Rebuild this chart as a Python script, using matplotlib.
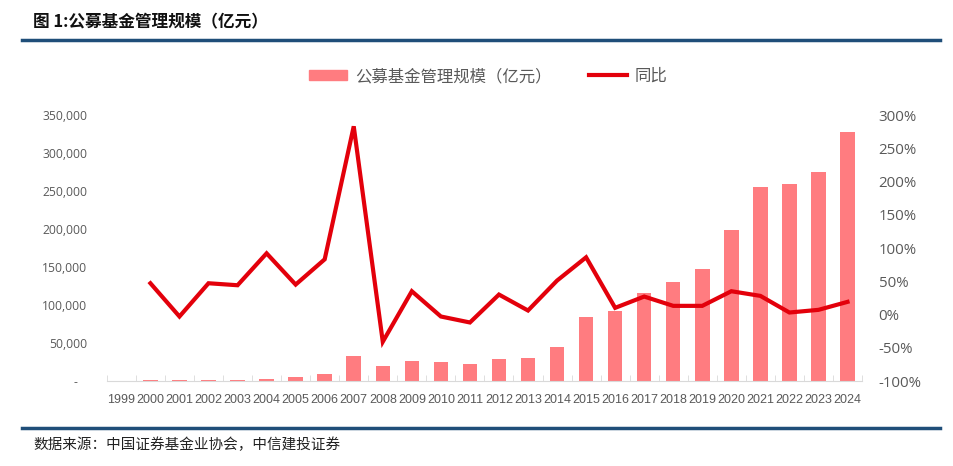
import matplotlib.pyplot as plt
import matplotlib.ticker as mticker
from matplotlib.lines import Line2D
from matplotlib.patches import Patch
import numpy as np

plt.rcParams['font.family'] = ['Noto Sans CJK SC', 'DejaVu Sans']

# data (亿元 / 同比)
years = [str(y) for y in range(1999, 2025)]
scale = [575, 846, 818, 1330, 1715, 3246, 4691, 8565, 32756, 19389,
         26767, 25199, 21918, 28662, 30021, 45354, 83972, 91593, 115997, 130347,
         147672, 198914, 255278, 259766, 275000, 328000]
yoy = [np.nan, 0.47, -0.03, 0.47, 0.44, 0.92, 0.45, 0.83, 2.83, -0.41,
       0.35, -0.03, -0.12, 0.30, 0.06, 0.51, 0.86, 0.10, 0.27, 0.13,
       0.13, 0.35, 0.28, 0.03, 0.07, 0.19]

C_BAR = '#FF7C80'
C_LINE = '#E3000B'
C_TEXT = '#595959'
C_NAVY = '#1F4E79'

fig = plt.figure(figsize=(9.54, 4.66), dpi=100, facecolor='white')
ax = fig.add_axes([0.112, 0.1824, 0.7916, 0.5708])
ax2 = ax.twinx()

x = np.arange(len(years))
ax.bar(x, scale, width=0.5, color=C_BAR, zorder=2)
ax2.plot(x, yoy, color=C_LINE, linewidth=3.0, solid_joinstyle='miter', zorder=3)

ax.set_xlim(-0.5, len(years) - 0.5)
ax.set_ylim(0, 350000)
ax2.set_ylim(-1, 3)
ax.set_yticks(np.arange(0, 350001, 50000))
ax2.set_yticks(np.arange(-1, 3.01, 0.5))

ax.yaxis.set_major_formatter(mticker.FuncFormatter(
    lambda v, p: '-   ' if v == 0 else f'{int(v):,}'))
ax2.yaxis.set_major_formatter(mticker.FuncFormatter(lambda v, p: f'{v*100:.0f}%'))

ax.set_xticks(x)
ax.set_xticklabels(years, family=['Liberation Sans Narrow', 'Liberation Sans', 'DejaVu Sans'],
                   fontsize=9, color=C_TEXT)
ax.set_xticks(np.arange(-0.5, len(years), 1), minor=True)
ax.tick_params(axis='x', which='major', length=0, pad=9)
ax.tick_params(axis='x', which='minor', direction='in', length=4, color='#D9D9D9')
ax.tick_params(axis='y', length=0, pad=14, labelsize=8.7, labelcolor=C_TEXT)
ax2.tick_params(axis='y', length=0, pad=12, labelsize=10.8, labelcolor=C_TEXT)
for lab in ax.get_yticklabels():
    lab.set_family(['Open Sans', 'DejaVu Sans'])
for lab in ax2.get_yticklabels():
    lab.set_family(['Open Sans', 'DejaVu Sans'])

for a in (ax, ax2):
    for s in ('top', 'right', 'left'):
        a.spines[s].set_visible(False)
ax2.spines['bottom'].set_visible(False)
ax.spines['bottom'].set_color('#D9D9D9')

handles = [Patch(color=C_BAR), Line2D([0], [0], color=C_LINE, linewidth=3)]
leg = fig.legend(handles, ['公募基金管理规模（亿元）', '同比'], loc='center',
                 bbox_to_anchor=(0.512, 0.836), ncol=2, frameon=False,
                 fontsize=11.8, handlelength=2.3, handleheight=0.6,
                 columnspacing=2.3, handletextpad=0.5)
for t in leg.get_texts():
    t.set_color(C_TEXT)

# header / footer
fig.text(0.035, 0.953, '图 1:公募基金管理规模（亿元）', fontsize=12, fontweight='bold',
         color='#111111', va='center', ha='left')
fig.add_artist(Line2D([0.023, 0.985], [0.914, 0.914], color=C_NAVY, linewidth=2.5))
fig.add_artist(Line2D([0.023, 0.985], [0.0815, 0.0815], color=C_NAVY, linewidth=2.5))
fig.text(0.035, 0.045, '数据来源：中国证券基金业协会，中信建投证券', fontsize=10.5,
         color='#222222', va='center', ha='left', style='italic')

fig.savefig('out.png', dpi=100, facecolor='white')
